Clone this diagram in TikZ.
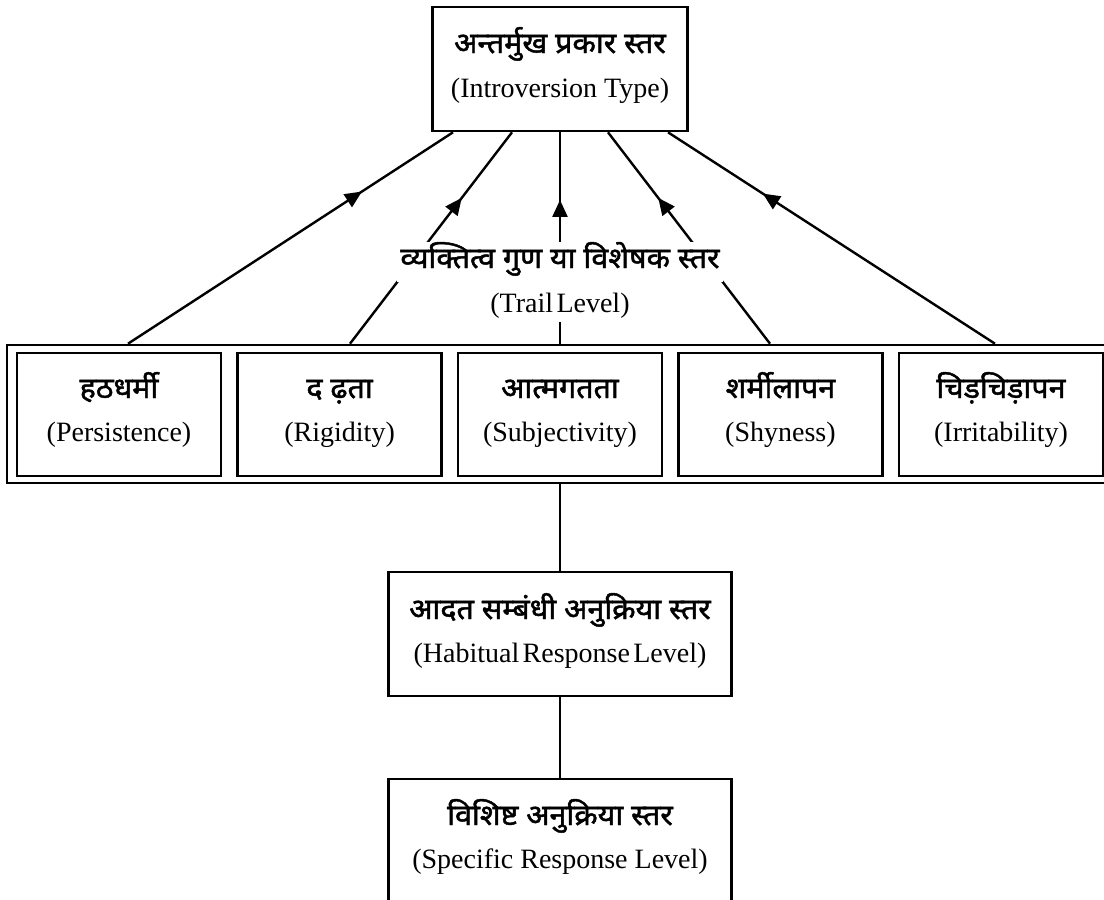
\documentclass[tikz,border=0pt]{standalone}
\usepackage{fontspec}
\setmainfont{Liberation Serif}
\newfontfamily\hin[Script=Devanagari, FakeBold=1.6, FakeStretch=1.05]{Noto Sans}
\usetikzlibrary{arrows.meta,decorations.markings}
\newcommand{\nsp}{\hspace{0.12em}}

\begin{document}
\begin{tikzpicture}[x=1pt,y=-1pt,
  box/.style={draw, line width=2.6pt, inner sep=0pt},
  hl/.style={font=\hin\fontsize{29}{33}\selectfont, inner sep=0pt, anchor=base},
  el/.style={font=\fontsize{28}{32}\selectfont, inner sep=0pt, anchor=base},
  link/.style={line width=2.4pt},
  up/.style={link, postaction={decorate},
    decoration={markings, mark=at position #1 with {\arrow{Triangle[length=17pt,width=15pt]}}}},
]
\clip (0,0) rectangle (1104,900);

% top level
\node[box, minimum width=255pt, minimum height=124pt] (top) at (560,69) {};
\node[hl] (toph) at (560,53) {अन्तर्मुख प्रकार स्तर};
\node[el] (tope) at (560,97) {(Introversion Type)};

% trait level: frame and five trait boxes
\node[box, minimum width=1106pt, minimum height=138pt] (frame) at (560,414) {};
\foreach \i/\cx/\h/\e in {1/119/हठधर्मी/Persistence, 2/339.6/द ढ़ता/Rigidity,
    3/560/आत्मगतता/Subjectivity, 4/780.4/शर्मीलापन/Shyness, 5/1001/चिड़चिड़ापन/Irritability} {
  \node[box, minimum width=204pt, minimum height=123pt] (t\i) at (\cx,414.5) {};
  \node[hl] (t\i h) at (\cx,398) {\h};
  \node[el] (t\i e) at (\cx,441) {(\e)};
}

% habitual and specific response levels
\node[box, minimum width=343pt, minimum height=124pt] (hab) at (560,634) {};
\node[hl] (habh) at (560,619) {आदत सम्बंधी अनुक्रिया स्तर};
\node[el] (habe) at (560,662) {(Habitual\nsp Response\nsp Level)};
\node[box, minimum width=343pt, minimum height=124pt] (spe) at (560,841) {};
\node[hl] (speh) at (560,825) {विशिष्ट अनुक्रिया स्तर};
\node[el] (spee) at (560,868) {(Specific Response Level)};

% rising links from the frame to the top box
\draw[up=0.72] ([xshift=-432pt]frame.north) -- ([xshift=-107pt]top.south);
\draw[up=0.69] ([xshift=-210pt]frame.north) -- ([xshift=-48pt]top.south);
\draw[up=0.68] (frame.north) -- (top.south);
\draw[up=0.69] ([xshift=210pt]frame.north) -- ([xshift=48pt]top.south);
\draw[up=0.71] ([xshift=435pt]frame.north) -- ([xshift=108pt]top.south);

% level label over the links
\node[hl, fill=white, inner xsep=3pt, text height=26pt, text depth=14pt] (trh) at (560,268)
  {व्यक्तित्व गुण या विशेषक स्तर};
\node[el, fill=white, inner xsep=2pt, text height=30pt, text depth=10pt] (tre) at (560,312)
  {(Trail\nsp Level)};

% links below the frame
\draw[link] (frame.south) -- (hab.north);
\draw[link] (hab.south) -- (spe.north);
\end{tikzpicture}
\end{document}
